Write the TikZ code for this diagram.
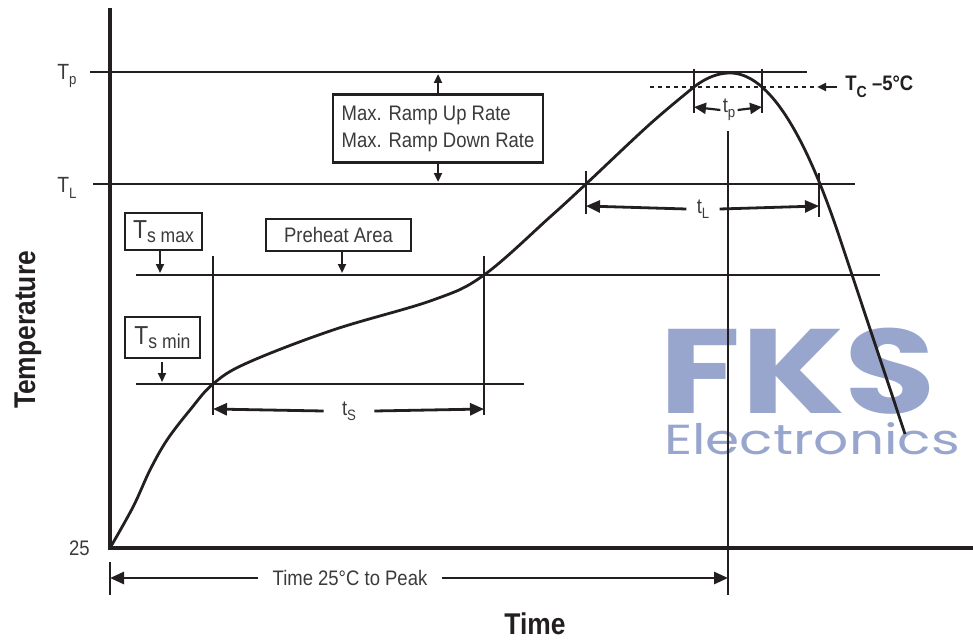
\documentclass[tikz,border=0pt]{standalone}
\usepackage{fontspec}
\setmainfont[FakeStretch=0.88]{Liberation Sans}
\newfontfamily\wmfont{Poppins}
\usetikzlibrary{arrows.meta}
\definecolor{ink}{RGB}{35,31,32}
\definecolor{labelgray}{RGB}{60,58,59}
\definecolor{fksblue}{RGB}{152,166,206}
\newcommand{\lsub}[1]{\raisebox{-0.45ex}{\fontsize{7.5}{8}\selectfont #1}}
\newcommand{\boxsub}[1]{\raisebox{-2pt}{\fontsize{10}{10}\selectfont #1}}

\tikzset{
  guide/.style={draw=ink, line width=1.4pt},
  axisline/.style={draw=ink, line width=1.7pt},
  dimarrow/.style={draw=ink, line width=1.4pt, -{Triangle[length=7pt,width=6pt]}},
  smallarrow/.style={draw=ink, line width=1.1pt, -{Triangle[length=4.5pt,width=4pt]}},
  labelbox/.style={draw=ink, line width=1.4pt, fill=white, text=labelgray,
    font=\fontsize{10.5}{13.5}\selectfont, inner sep=0pt},
  lbl/.style={text=labelgray, font=\fontsize{10.5}{12}\selectfont, inner sep=1pt},
  axislbl/.style={text=ink, font=\bfseries\fontsize{15}{15}\selectfont, inner sep=0pt},
}

\begin{document}
\begin{tikzpicture}[x=0.5pt, y=-0.5pt]
\useasboundingbox (0,0) rectangle (973,642);

% watermark
\node[text=fksblue, font=\wmfont\bfseries\fontsize{60}{60}\selectfont, inner sep=0pt, xscale=1.24, text depth=0pt] (fks) at (798,371) {FKS};
\node[text=fksblue, font=\wmfont\fontsize{21}{21}\selectfont, inner sep=0pt, xscale=1.31, text depth=0pt, text height=11pt] (fkstext) at (812,443) {Electronics};

% axes
\coordinate (orig) at (110,548);
\coordinate (ytop) at (110,8);
\coordinate (xend) at (973,548);
\draw[axisline] (ytop) -- (orig) -- (xend);
\node[axislbl, rotate=90] (templbl) at (28,330) {Temperature};
\node[axislbl] (timelbl) at (535,624) {Time};

% temperature levels
\coordinate (tpA) at (90,72);   \coordinate (tpB) at (807,72);
\coordinate (tlA) at (93,184);  \coordinate (tlB) at (855,184);
\coordinate (smaxA) at (136,275); \coordinate (smaxB) at (880,275);
\coordinate (sminA) at (136,384); \coordinate (sminB) at (524,384);
\draw[guide] (tpA) -- (tpB);
\draw[guide] (tlA) -- (tlB);
\draw[guide] (smaxA) -- (smaxB);
\draw[guide] (sminA) -- (sminB);
\node[lbl, font=\fontsize{11}{12}\selectfont] (tplbl) at (67,76) {T\lsub{p}};
\node[lbl, font=\fontsize{11}{12}\selectfont] (tllbl) at (67,188) {T\lsub{L}};
\node[lbl, anchor=east] (zerolbl) at (92,548) {25};

% T_C -5 level
\coordinate (tcA) at (650,87); \coordinate (tcB) at (817,87);
\draw[guide, line width=1.2pt, dash pattern=on 2.2pt off 1.8pt] (tcA) -- (tcB);
\node[text=ink, font=\bfseries\fontsize{10.5}{12}\selectfont, anchor=west, inner sep=0pt] (tclbl) at (845,87) {T\raisebox{-0.6ex}{\fontsize{8}{8}\selectfont C} --5°C};
\draw[smallarrow] (tclbl.west) ++(-4pt,0) coordinate (tcC) -- (tcB);

% label boxes
\node[labelbox, align=left, minimum width=105pt, minimum height=34pt] (ramp) at (438,128.5)
  {Max. Ramp Up Rate\\Max. Ramp Down Rate};
\coordinate (rampup) at (438,74);
\coordinate (rampdn) at (438,182);
\draw[smallarrow] (ramp.north) -- (rampup);
\draw[smallarrow] (ramp.south) -- (rampdn);

\node[labelbox, minimum width=38.5pt, minimum height=18.5pt, font=\fontsize{13}{13}\selectfont] (smax) at (163.5,231.5)
  {T\boxsub{s max}};
\node[labelbox, minimum width=72.5pt, minimum height=16pt] (preheat) at (338.5,235) {Preheat Area};
\node[labelbox, minimum width=37.5pt, minimum height=20.5pt, font=\fontsize{13}{13}\selectfont] (smin) at (162.5,337.5)
  {T\boxsub{s min}};
\coordinate (smaxtip) at (160,273);
\coordinate (pretip) at (342,273);
\coordinate (smintop) at (162,362);
\coordinate (smintip) at (162,382);
\draw[smallarrow] (smax.south -| smaxtip) -- (smaxtip);
\draw[smallarrow] (preheat.south -| pretip) -- (pretip);
\draw[smallarrow] (smintop) -- (smintip);

% preheat time t_S
\coordinate (sA) at (213,256); \coordinate (sAb) at (213,415);
\coordinate (sB) at (484,256); \coordinate (sBb) at (484,415);
\draw[guide] (sA) -- (sAb);
\draw[guide] (sB) -- (sBb);
\node[lbl] (tslbl) at (349,411) {t\lsub{S}};
\coordinate (sL) at (213,409); \coordinate (sR) at (484,409);
\draw[dimarrow] (tslbl.west) ++(-8pt,0) -- (sL);
\draw[dimarrow] (tslbl.east) ++(8pt,0) -- (sR);

% time above liquidus t_L
\coordinate (lA) at (586,171); \coordinate (lAb) at (586,214);
\coordinate (lB) at (819,173); \coordinate (lBb) at (819,217);
\draw[guide] (lA) -- (lAb);
\draw[guide] (lB) -- (lBb);
\node[lbl] (tllbl2) at (703,209) {t\lsub{L}};
\coordinate (lL) at (586,206); \coordinate (lR) at (819,206);
\draw[dimarrow] (tllbl2.west) ++(-4pt,0) -- (lL);
\draw[dimarrow] (tllbl2.east) ++(4pt,0) -- (lR);

% time near peak t_p
\coordinate (pA) at (694,69); \coordinate (pAb) at (694,113);
\coordinate (pB) at (762,69); \coordinate (pBb) at (762,113);
\draw[guide] (pA) -- (pAb);
\draw[guide] (pB) -- (pBb);
\node[lbl] (tplbl2) at (729,110) {t\lsub{p}};
\coordinate (pL) at (694,107); \coordinate (pR) at (762,107);
\draw[smallarrow, -{Triangle[length=6pt,width=5.5pt]}] (tplbl2.west) -- (pL);
\draw[smallarrow, -{Triangle[length=6pt,width=5.5pt]}] (tplbl2.east) -- (pR);

% time 25 to peak
\coordinate (peaktop) at (728,131); \coordinate (peakbot) at (728,595);
\draw[guide] (peaktop) -- (peakbot);
\coordinate (otick) at (110,562); \coordinate (otickb) at (110,595);
\draw[guide] (otick) -- (otickb);
\node[lbl] (peaklbl) at (350,578) {Time 25°C to Peak};
\coordinate (kL) at (110,578); \coordinate (kR) at (728,578);
\draw[dimarrow] (peaklbl.west) ++(-6pt,0) -- (kL);
\draw[dimarrow] (peaklbl.east) ++(6pt,0) -- (kR);

% reflow profile: smooth ramp, parabolic peak, straight cooling
\draw[guide, line join=round] plot[smooth, tension=0.6] coordinates {
  (110,548) (133,507) (150,470) (167,440) (190,410) (213,384) (247,363)
  (333,330) (433,300) (484,275) (550,217) (586,184) (650,124) (694,87)}
  -- plot[domain=694:730, samples=19] ({\x},{73+0.0108*(\x-730)^2})
  -- plot[domain=730:839.5, samples=40] ({\x},{73+0.0137*(\x-730)^2})
  -- (905,434);
\end{tikzpicture}
\end{document}
